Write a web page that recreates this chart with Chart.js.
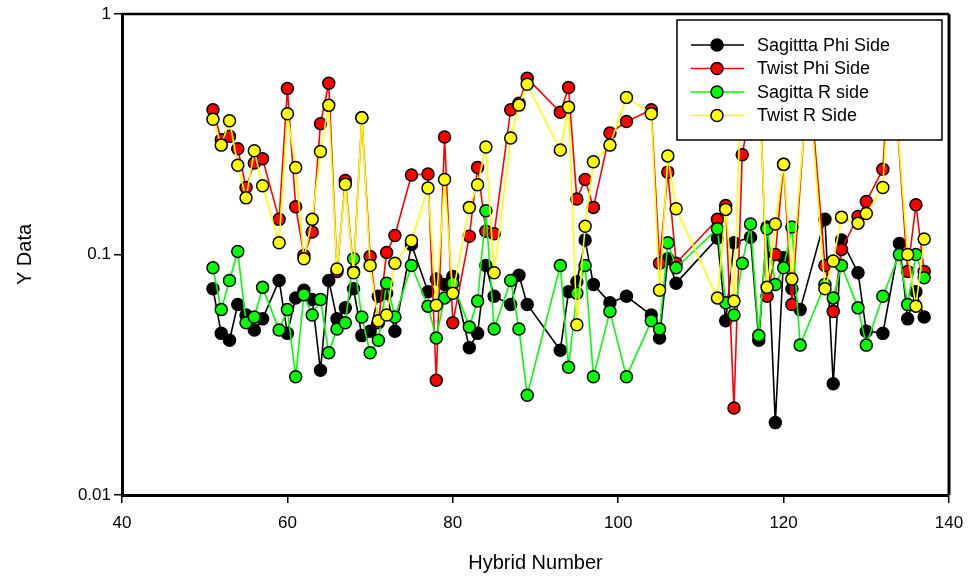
<!DOCTYPE html>
<html>
<head>
<meta charset="utf-8">
<script src="https://cdn.jsdelivr.net/npm/chart.js@4.4.1/dist/chart.umd.min.js"></script>
<style>
  body { margin: 0; background: #fff; }
  canvas { display: block; }
</style>
</head>
<body>
<canvas id="grafico" width="971" height="579"></canvas>
<script>
// numeros de hibrido (eje x)
const hibridos = [51,52,53,54,55,56,57,59,60,61,62,63,64,65,66,67,68,69,70,71,72,73,75,77,78,79,80,82,83,84,85,87,88,89,93,94,95,96,97,99,101,104,105,106,107,112,113,114,115,116,117,118,119,120,121,122,123,125,126,127,129,130,132,133,134,135,136,137];

// valores (null = sin punto)
const sagittaPhi = [0.072,0.047,0.044,0.062,0.056,0.0485,0.054,0.078,0.047,0.066,0.071,0.065,0.033,0.078,0.054,0.060,0.072,0.046,0.048,0.067,0.069,0.048,0.110,0.070,0.079,0.075,0.081,0.041,0.047,0.090,0.067,0.062,0.082,0.062,0.040,0.070,0.077,0.115,0.075,0.063,0.067,0.056,0.045,0.096,0.076,0.117,0.053,0.112,null,0.118,0.044,0.130,0.020,0.097,0.072,0.059,null,0.140,0.029,0.115,0.084,0.048,0.047,null,0.111,0.054,0.070,0.055];
const twistPhi = [0.40,0.30,0.31,0.275,0.19,0.24,0.25,0.14,0.49,0.158,0.099,0.124,0.35,0.515,0.085,0.203,0.085,0.37,0.098,0.052,0.102,0.12,0.214,0.216,0.030,0.308,0.052,0.119,0.23,0.125,0.122,0.40,0.425,0.54,0.39,0.495,0.17,0.205,0.157,0.32,0.357,0.40,0.092,0.22,0.092,0.14,0.16,0.023,0.26,null,0.64,0.067,0.10,0.237,0.062,null,0.60,0.09,0.058,0.105,0.144,0.166,0.226,0.80,null,0.085,0.161,0.085];
const sagittaR = [0.088,0.059,0.078,0.103,0.052,0.055,0.073,0.0485,0.059,0.031,0.068,0.056,0.065,0.039,0.049,0.052,0.096,0.055,0.039,0.044,0.076,0.055,0.090,0.061,0.045,0.066,0.076,0.050,0.064,0.152,0.049,0.078,0.049,0.026,0.090,0.034,0.069,0.090,0.031,0.058,0.031,0.053,0.049,0.112,0.088,0.128,0.063,0.056,0.092,0.134,0.046,0.128,0.075,0.088,0.130,0.042,null,0.075,0.066,0.090,0.060,0.042,0.067,null,0.100,0.062,0.100,0.080];
const twistR = [0.365,0.285,0.36,0.235,0.172,0.27,0.193,0.112,0.385,0.23,0.096,0.14,0.268,0.417,0.087,0.196,0.084,0.37,0.090,0.053,0.056,0.092,0.114,0.189,0.0615,0.205,0.069,0.157,0.195,0.28,0.084,0.305,0.418,0.51,0.272,0.41,0.051,0.131,0.243,0.285,0.45,0.385,0.071,0.257,0.155,0.066,0.154,0.064,0.70,null,0.60,0.073,0.134,0.237,0.079,null,0.55,0.072,0.094,0.143,0.135,0.148,0.19,0.75,null,0.100,0.061,0.116];

const ticksY = [0.01, 0.1, 1];
const ticksX = [40, 60, 80, 100, 120, 140];

const fuente = "'Liberation Sans', Arial, sans-serif";

function serie(nombre, valores, color, orden) {
  return {
    label: nombre,
    data: hibridos.map((h, i) => ({ x: h, y: valores[i] })),
    borderColor: color,
    backgroundColor: color,
    borderWidth: 1.6,
    pointRadius: 6,
    pointBorderColor: "#000",
    pointBorderWidth: 1.5,
    pointBackgroundColor: color,
    spanGaps: true,
    order: orden
  };
}

// marco alrededor del area y leyenda dibujada encima de los datos
const marcoYLeyenda = {
  id: "marcoYLeyenda",
  afterDraw(chart) {
    const ctx = chart.ctx;
    const a = chart.chartArea;
    ctx.save();
    ctx.strokeStyle = "#000";
    ctx.lineWidth = 2.5;
    ctx.beginPath();
    ctx.moveTo(a.left, a.top);
    ctx.lineTo(a.right, a.top);
    ctx.stroke();
    ctx.lineWidth = 3;
    ctx.beginPath();
    ctx.moveTo(a.right, a.top);
    ctx.lineTo(a.right, a.bottom);
    ctx.stroke();

    // leyenda
    const lx = 677, ly = 20, lw = 265, lh = 120;
    ctx.fillStyle = "#fff";
    ctx.fillRect(lx, ly, lw, lh);
    ctx.lineWidth = 1.5;
    ctx.strokeRect(lx, ly, lw, lh);
    ctx.font = "18px " + fuente;
    ctx.textBaseline = "middle";
    chart.data.datasets.forEach((ds, i) => {
      const y = 45 + i * 23.5;
      ctx.strokeStyle = ds.borderColor;
      ctx.lineWidth = 1.6;
      ctx.beginPath();
      ctx.moveTo(691, y);
      ctx.lineTo(744, y);
      ctx.stroke();
      ctx.beginPath();
      ctx.arc(717, y, 6, 0, Math.PI * 2);
      ctx.fillStyle = ds.backgroundColor;
      ctx.fill();
      ctx.strokeStyle = "#000";
      ctx.lineWidth = 1.5;
      ctx.stroke();
      ctx.fillStyle = "#000";
      ctx.fillText(ds.label, 757, y + 1);
    });
    ctx.restore();
  }
};

new Chart(document.getElementById("grafico"), {
  type: "line",
  data: {
    datasets: [
      serie("Sagittta Phi Side", sagittaPhi, "#000000", 4),
      serie("Twist Phi Side", twistPhi, "#ff0000", 3),
      serie("Sagitta R side", sagittaR, "#00ff00", 2),
      serie("Twist R Side", twistR, "#ffff00", 1)
    ]
  },
  options: {
    responsive: false,
    devicePixelRatio: 1,
    animation: false,
    layout: { padding: { top: 14, right: 22, left: 0, bottom: 0 } },
    plugins: { legend: { display: false }, tooltip: { enabled: false } },
    scales: {
      x: {
        type: "linear",
        min: 40,
        max: 140,
        afterBuildTicks: (s) => { s.ticks = ticksX.map(v => ({ value: v })); },
        afterFit: (s) => { s.height = 84; s.paddingLeft = 0; s.paddingRight = 0; },
        ticks: { color: "#000", font: { family: fuente, size: 17 }, padding: 10, maxRotation: 0 },
        grid: { display: true, drawOnChartArea: false, drawTicks: true, tickLength: 8, color: "#000", lineWidth: 1.5 },
        border: { display: true, color: "#000", width: 3 },
        title: { display: true, text: "Hybrid Number", color: "#000", font: { family: fuente, size: 20 }, padding: { top: 0, bottom: 4 } }
      },
      y: {
        type: "logarithmic",
        min: 0.01,
        max: 1,
        afterBuildTicks: (s) => { s.ticks = ticksY.map(v => ({ value: v })); },
        afterFit: (s) => { s.width = 122; s.paddingTop = 0; s.paddingBottom = 0; },
        ticks: { color: "#000", font: { family: fuente, size: 17 }, padding: 3, callback: (v) => String(v) },
        grid: { display: true, drawOnChartArea: false, drawTicks: true, tickLength: 8, color: "#000", lineWidth: 1.5 },
        border: { display: true, color: "#000", width: 3 },
        title: { display: true, text: "Y Data", color: "#000", font: { family: fuente, size: 20 }, padding: { top: 13, bottom: 0 } }
      }
    }
  },
  plugins: [marcoYLeyenda]
});
</script>
</body>
</html>
